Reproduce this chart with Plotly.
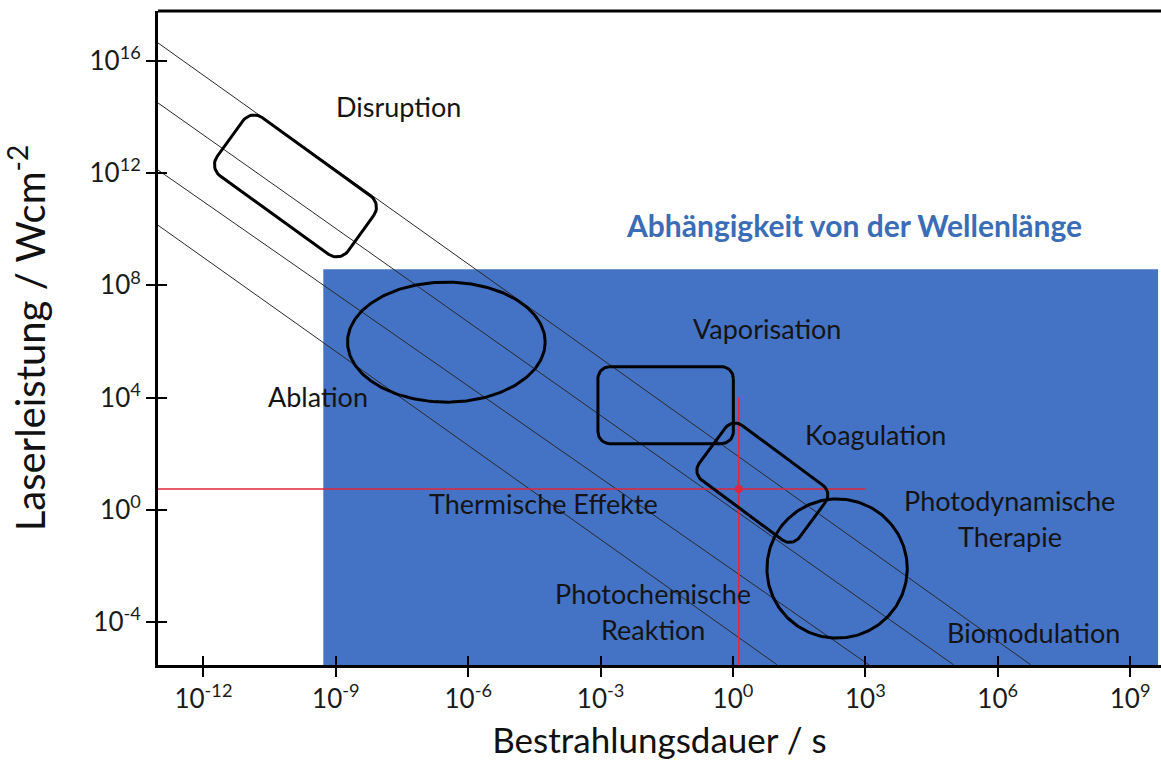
import numpy as np
import plotly.graph_objects as go

# ---------------- axes (powers of ten) ----------------
x_tick_exp = [-12, -9, -6, -3, 0, 3, 6, 9]
y_tick_exp = [-4, 0, 4, 8, 12, 16]
x_range_exp = [-13.03, 9.7]
y_range_exp = [-5.53, 17.78]

# ---------------- wavelength-dependent block ----------------
wl_block_x = [5.2e-10, 4.3e9]      # s
wl_block_y = [1e-7, 3.8e8]         # W/cm²

# ---------------- iso-fluence lines (start / end) ----------------
iso_x0 = [9.3e-14, 9.3e-14, 9.3e-14, 9.3e-14]
iso_y0 = [4.4e16, 3.2e14, 1.3e12, 1.4e10]
iso_x1 = [5.6e6, 1.0e5, 1.2e3, 1.0e1]
iso_y1 = [3.0e-6, 3.0e-6, 3.0e-6, 3.0e-6]

# ---------------- marked operating point ----------------
op_time = 1.35          # s
op_power = 5.5          # W/cm²
op_hline_end = 1e3      # s
op_vline_top = 1e4      # W/cm²

# ---------------- interaction regions ----------------
# ellipses: centre (s, W/cm²) and half-widths in decades
ellipse_cx = [3.2e-7, 229]
ellipse_cy = [9.5e5, 8.1e-3]
ellipse_dx = [2.24, 1.59]
ellipse_dy = [2.14, 2.48]

# rounded boxes: end points of the long axis (s, W/cm²)
box_x0 = [4.0e-12, 8.7e-4, 0.34]
box_y0 = [1.7e13, 5.4e3, 195]
box_x1 = [3.7e-9, 1.02, 63]
box_y1 = [7.2e9, 5.4e3, 0.44]

# ---------------- text labels ----------------
labels = ["Disruption", "Vaporisation", "Ablation", "Koagulation",
          "Thermische Effekte", "Photochemische", "Reaktion",
          "Photodynamische", "Therapie", "Biomodulation"]
label_x_exp = [-7.59, 0.78, -9.41, 3.22, -4.30, -1.82, -1.82, 6.27, 6.27, 6.80]
label_y_exp = [14.36, 6.48, 4.03, 2.67, 0.24, -2.97, -4.25, 0.32, -0.96, -4.36]
block_title = "Abhängigkeit von der Wellenlänge"
block_title_pos = (2.75, 10.15)

# ---------------- figure geometry ----------------
W, H = 1161, 760
M = dict(l=158, r=0, t=11, b=95)
plot_w = W - M["l"] - M["r"]
plot_h = H - M["t"] - M["b"]
kx = plot_w / (x_range_exp[1] - x_range_exp[0])   # px per decade
ky = plot_h / (y_range_exp[1] - y_range_exp[0])

box_thick = [72, 77, 68]   # px
box_radius = [14, 12, 12]  # px
FONT = "Lato"
BLUE = "#4472C4"


def rounded_box(p0, p1, thick, rad, n=14):
    """Rounded rectangle whose long axis runs from p0 to p1 (screen-true shape)."""
    u0, v0 = np.log10(p0[0]) * kx, np.log10(p0[1]) * ky
    u1, v1 = np.log10(p1[0]) * kx, np.log10(p1[1]) * ky
    d = np.array([u1 - u0, v1 - v0])
    L = np.hypot(*d)
    d = d / L
    nrm = np.array([-d[1], d[0]])
    c = np.array([(u0 + u1) / 2, (v0 + v1) / 2])
    hl, hw = L / 2 - rad, thick / 2 - rad
    pts = []
    for ss, ws, a0 in [(1, 1, 0), (-1, 1, 90), (-1, -1, 180), (1, -1, 270)]:
        th = np.radians(np.linspace(a0, a0 + 90, n))
        s = ss * hl + rad * np.cos(th)
        w = ws * hw + rad * np.sin(th)
        pts.append(c[None, :] + s[:, None] * d[None, :] + w[:, None] * nrm[None, :])
    pts = np.vstack(pts + [pts[0][:1]])
    return 10 ** (pts[:, 0] / kx), 10 ** (pts[:, 1] / ky)


def ellipse(cx, cy, dx, dy, n=240):
    th = np.linspace(0, 2 * np.pi, n)
    return 10 ** (np.log10(cx) + dx * np.cos(th)), 10 ** (np.log10(cy) + dy * np.sin(th))


fig = go.Figure()

# shaded block
fig.add_trace(go.Scatter(
    x=[wl_block_x[0], wl_block_x[1], wl_block_x[1], wl_block_x[0], wl_block_x[0]],
    y=[wl_block_y[0], wl_block_y[0], wl_block_y[1], wl_block_y[1], wl_block_y[0]],
    mode="lines", fill="toself", fillcolor=BLUE, line=dict(width=0, color=BLUE),
    hoverinfo="skip", showlegend=False))

# iso-fluence lines
for i in range(len(iso_x0)):
    fig.add_trace(go.Scatter(
        x=[iso_x0[i], iso_x1[i]], y=[iso_y0[i], iso_y1[i]], mode="lines",
        line=dict(color="#2a2a2a", width=1), hoverinfo="skip", showlegend=False))

# operating point cross-hair
fig.add_trace(go.Scatter(
    x=[10 ** x_range_exp[0], op_hline_end], y=[op_power, op_power], mode="lines",
    line=dict(color="#e3263b", width=1.4), hoverinfo="skip", showlegend=False))
fig.add_trace(go.Scatter(
    x=[op_time, op_time], y=[10 ** y_range_exp[0], op_vline_top], mode="lines",
    line=dict(color="#e3263b", width=1.4), hoverinfo="skip", showlegend=False))

# regions
for i in range(len(ellipse_cx)):
    ex, ey = ellipse(ellipse_cx[i], ellipse_cy[i], ellipse_dx[i], ellipse_dy[i])
    fig.add_trace(go.Scatter(x=ex, y=ey, mode="lines", line=dict(color="black", width=3),
                             hoverinfo="skip", showlegend=False))
for i in range(len(box_x0)):
    bx, by = rounded_box((box_x0[i], box_y0[i]), (box_x1[i], box_y1[i]),
                         box_thick[i], box_radius[i])
    fig.add_trace(go.Scatter(x=bx, y=by, mode="lines", line=dict(color="black", width=3),
                             hoverinfo="skip", showlegend=False))

fig.add_trace(go.Scatter(
    x=[op_time], y=[op_power], mode="markers",
    marker=dict(color="#e3263b", size=8), hoverinfo="skip", showlegend=False))

# invisible trace for the inner tick overlay
fig.add_trace(go.Scatter(x=[1], y=[1], xaxis="x2", yaxis="y2", mode="markers",
                         marker=dict(opacity=0), hoverinfo="skip", showlegend=False))

# labels
for t, lx, ly in zip(labels, label_x_exp, label_y_exp):
    fig.add_annotation(x=lx, y=ly, text=t, showarrow=False,
                       font=dict(family=FONT, size=27, color="#141414"),
                       xanchor="center", yanchor="middle")
fig.add_annotation(x=block_title_pos[0], y=block_title_pos[1], text="<b>" + block_title + "</b>",
                   showarrow=False, font=dict(family=FONT, size=30, color="#3b6cb6"),
                   xanchor="center", yanchor="middle")

tick_font = dict(family=FONT, size=26, color="#1a1a1a")
x_vals = [10.0 ** e for e in x_tick_exp]
y_vals = [10.0 ** e for e in y_tick_exp]
x_text = [f"10<sup>{e}</sup>" for e in x_tick_exp]
y_text = [f"10<sup>{e}</sup>" for e in y_tick_exp]

fig.update_layout(
    width=W, height=H, margin=M,
    paper_bgcolor="white", plot_bgcolor="white",
    hovermode=False, showlegend=False,
    xaxis=dict(type="log", range=x_range_exp, tickvals=x_vals, ticktext=x_text,
               ticks="outside", ticklen=9, tickwidth=2, tickcolor="black",
               showline=True, linewidth=3, linecolor="black",
               showgrid=False, zeroline=False, tickfont=tick_font,
               title=dict(text="Bestrahlungsdauer / s", standoff=16,
                          font=dict(family=FONT, size=35, color="#111"))),
    yaxis=dict(type="log", range=y_range_exp, tickvals=y_vals, ticktext=y_text,
               ticks="outside", ticklen=9, tickwidth=2, tickcolor="black",
               showline=True, linewidth=3, linecolor="black",
               showgrid=False, zeroline=False, tickfont=tick_font,
               title=dict(text="Laserleistung / Wcm<sup>-2</sup>", standoff=33,
                          font=dict(family=FONT, size=40, color="#111"))),
    xaxis2=dict(type="log", range=x_range_exp, overlaying="x", anchor="y2",
                tickvals=x_vals, ticks="inside", ticklen=9, tickwidth=2, tickcolor="black",
                showticklabels=False, showline=False, showgrid=False, zeroline=False),
    yaxis2=dict(type="log", range=y_range_exp, overlaying="y", anchor="x2", side="left",
                tickvals=y_vals, ticks="inside", ticklen=9, tickwidth=2, tickcolor="black",
                showticklabels=False, showline=False, showgrid=False, zeroline=False),
    shapes=[dict(type="line", xref="paper", yref="paper", x0=0, x1=1, y0=1, y1=1,
                 line=dict(color="black", width=3))],
)

fig.write_html("out.html", config={"displayModeBar": False})
